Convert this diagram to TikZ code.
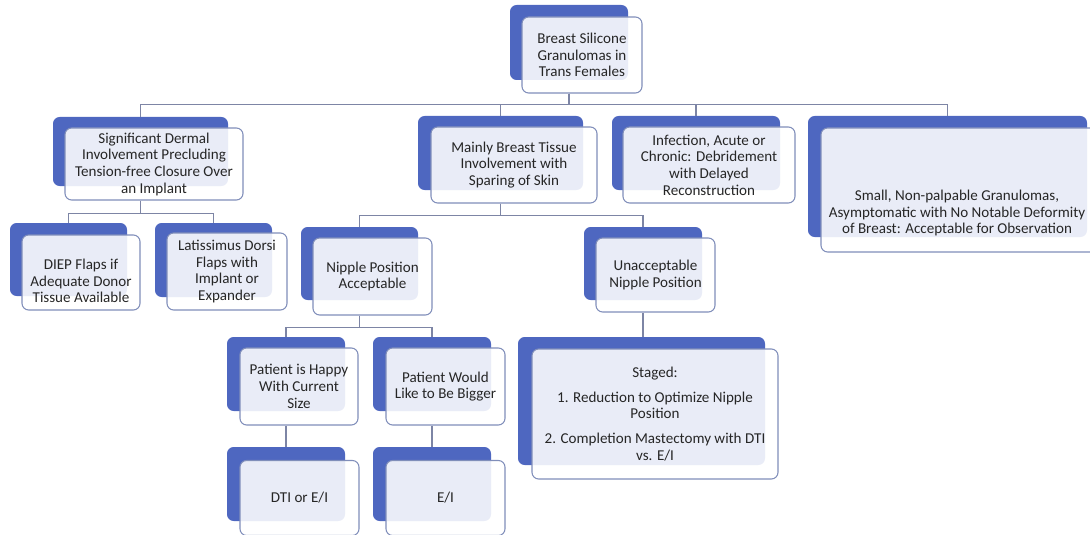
\documentclass[tikz,border=0pt]{standalone}
\usepackage{fontspec}
\setmainfont{Carlito}
\usepackage{tikz}

\definecolor{cardblue}{RGB}{78,103,192}
\definecolor{cardedge}{RGB}{128,142,186}
\definecolor{linkgray}{RGB}{125,133,165}

\begin{document}
\begin{tikzpicture}[
                    x=0.75pt, y=-0.75pt,
                    back/.style 2 args={rectangle, rounded corners=5pt, fill=cardblue, inner sep=0pt, minimum width=#1*0.75pt, minimum height=#2*0.75pt},
                    front/.style 2 args={rectangle, rounded corners=5pt, draw=cardedge, line width=0.8pt, fill=white, fill opacity=0.88, text opacity=1, inner sep=0pt, minimum width=#1*0.75pt, minimum height=#2*0.75pt, align=center, text=black!85, font=\fontsize{11.3}{12.5}\selectfont},
                    cardtext/.style={align=center, text=black!85, font=\fontsize{11.3}{12.5}\selectfont},
                    link/.style={draw=linkgray, line width=0.8pt}
                ]
                \useasboundingbox (0,0) rectangle (1090,535);

                % level 0
                \node[back={118}{75}] (rootb) at (569,42.5) {};
                \node[front={120}{76}] (root) at (582,55) {Breast Silicone\\Granulomas in\\Trans Females};

                % level 1
                \node[back={175}{69}] (sigb) at (140.5,151.5) {};
                \node[front={178}{72}] (sig) at (154,164) {Significant Dermal\\Involvement Precluding\\Tension-free Closure Over\\an Implant};
                \node[back={165}{74}] (mainlyb) at (500.5,153) {};
                \node[front={166}{76}] (mainly) at (514,165) {Mainly Breast Tissue\\Involvement with\\Sparing of Skin};
                \node[back={168}{74}] (infectb) at (696,153) {};
                \node[front={172}{76}] (infect) at (709,165) {Infection, Acute or\\Chronic: Debridement\\with Delayed\\Reconstruction};
                \node[back={279}{121}] (smallb) at (947.5,176.5) {};
                \node[front={276}{124}] (small) at (959,190) {};
                \node[cardtext] (smalltext) at (957,213) {Small, Non-palpable Granulomas,\\Asymptomatic with No Notable Deformity\\of Breast: Acceptable for Observation};

                % level 2
                \node[back={117}{73}] (diepb) at (68.5,259.5) {};
                \node[front={118}{75}] (diep) at (81,272.5) {};
                \node[cardtext] (dieptext) at (81,281) {DIEP Flaps if\\Adequate Donor\\Tissue Available};
                \node[back={117}{74}] (latb) at (213.5,260) {};
                \node[front={120}{77}] (lat) at (227,271.5) {Latissimus Dorsi\\Flaps with\\Implant or\\Expander};
                \node[back={117}{73}] (nipokb) at (359.5,263.5) {};
                \node[front={119}{77}] (nipok) at (372.5,276.5) {Nipple Position\\Acceptable};
                \node[back={118}{73}] (nipbadb) at (643,263.5) {};
                \node[front={119}{74}] (nipbad) at (655.5,275) {Unacceptable\\Nipple Position};

                % level 3
                \node[back={118}{74}] (happyb) at (286,374) {};
                \node[front={118}{77}] (happy) at (299,386.5) {Patient is Happy\\With Current\\Size};
                \node[back={118}{74}] (biggerb) at (432,374) {};
                \node[front={119}{77}] (bigger) at (445.5,386.5) {Patient Would\\Like to Be Bigger};
                \node[back={247}{128}] (stagedb) at (641.5,401) {};
                \node[front={246}{130}] (staged) at (655,414) {Staged:\\[6pt]1. Reduction to Optimize Nipple\\Position\\[6pt]2. Completion Mastectomy with DTI\\vs. E/I};

                % level 4
                \node[back={118}{74}] (dtib) at (286,484) {};
                \node[front={119}{75}] (dti) at (299.5,498) {DTI or E/I};
                \node[back={118}{74}] (eib) at (432,484) {};
                \node[front={119}{75}] (ei) at (445.5,498) {E/I};

                % connectors
                \draw[link] (rootb.center |- root.south) -- ++(0,11) -| (sigb.north);
                \draw[link] (rootb.center |- root.south) -- ++(0,11) -| (mainlyb.north);
                \draw[link] (rootb.center |- root.south) -- ++(0,11) -| (infectb.north);
                \draw[link] (rootb.center |- root.south) -- ++(0,11) -| (smallb.north);
                \draw[link] (sigb.center |- sig.south) -- ++(0,13) -| (diepb.north);
                \draw[link] (sigb.center |- sig.south) -- ++(0,13) -| (latb.north);
                \draw[link] (mainlyb.center |- mainly.south) -- ++(0,12) -| (nipokb.north);
                \draw[link] (mainlyb.center |- mainly.south) -- ++(0,12) -| (nipbadb.north);
                \draw[link] (nipokb.center |- nipok.south) -- ++(0,12) -| (happyb.north);
                \draw[link] (nipokb.center |- nipok.south) -- ++(0,12) -| (biggerb.north);
                \draw[link] (happyb.center |- happy.south) -- (dtib.north);
                \draw[link] (biggerb.center |- bigger.south) -- (eib.north);
                \draw[link] (nipbadb.center |- nipbad.south) -- (nipbadb.center |- stagedb.north);
                \end{tikzpicture}
\end{document}
